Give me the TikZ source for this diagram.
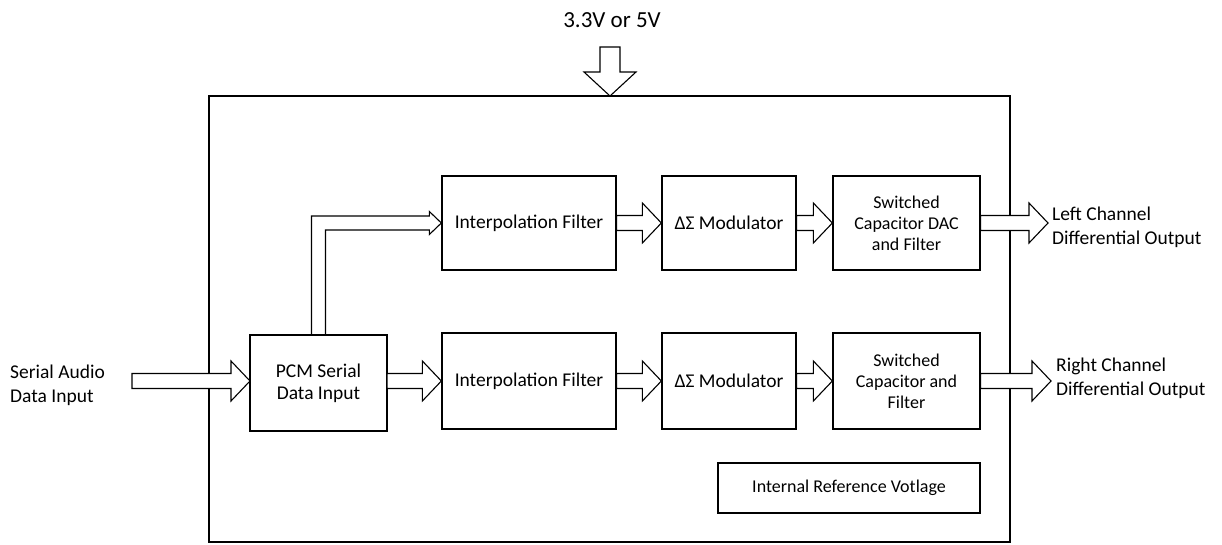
\documentclass[tikz,border=0pt]{standalone}
\usepackage{fontspec}
\setmainfont{Carlito}
\usetikzlibrary{calc}
\tikzset{
  blk/.style={draw, line width=1.3pt, minimum width=#1, align=center, inner sep=2pt},
  blk/.default=170pt,
  fat/.style={draw, fill=white, line width=1.1pt, line join=miter},
  lbl/.style={align=left, font=\fontsize{19.5}{24}\selectfont, inner sep=0pt}
}
\newcommand{\fatarrow}[2]{%
  \draw[fat] let \p1=(#1), \p2=(#2) in
    (\x1,\y1+7.5pt) -- (\x2-19pt,\y1+7.5pt) -- (\x2-19pt,\y1+20pt) -- (\x2,\y1)
    -- (\x2-19pt,\y1-20pt) -- (\x2-19pt,\y1-7.5pt) -- (\x1,\y1-7.5pt) -- cycle;}
\begin{document}
\begin{tikzpicture}[x=1pt,y=-1pt]
\useasboundingbox (0,0) rectangle (1222,545);
% outer box
\draw[line width=1.3pt] (209,96) rectangle (1010,542);
\node[font=\fontsize{23}{24}\selectfont] (vcc) at (612,20) {3.3V or 5V};
\coordinate (vtip) at (610,96);
% blocks
\node[blk=137pt, minimum height=96pt, font=\fontsize{19.5}{22}\selectfont] (pcm) at (318.5,383) {PCM Serial\\Data Input};
\node[blk=174pt, minimum height=94pt, font=\fontsize{19.5}{22}\selectfont] (if1) at (529,223) {Interpolation Filter};
\node[blk=134pt, minimum height=94pt, font=\fontsize{19.5}{22}\selectfont] (m1) at (729,223) {ΔΣ Modulator};
\node[blk=147pt, minimum height=94pt, font=\fontsize{18}{21}\selectfont] (s1) at (906.5,223) {Switched\\Capacitor DAC\\and Filter};
\node[blk=174pt, minimum height=96pt, font=\fontsize{19.5}{22}\selectfont] (if2) at (529,381) {Interpolation Filter};
\node[blk=134pt, minimum height=96pt, font=\fontsize{19.5}{22}\selectfont] (m2) at (729,381) {ΔΣ Modulator};
\node[blk=147pt, minimum height=96pt, font=\fontsize{18}{21}\selectfont] (s2) at (906.5,381) {Switched\\Capacitor and\\Filter};
\node[blk=262pt, minimum height=50pt, font=\fontsize{18}{20}\selectfont] (ref) at (849,488) {Internal Reference Votlage};
% labels
\node[lbl, anchor=west] (inlbl) at (10,385) {Serial Audio\\Data Input};
\node[lbl, anchor=west] (lout) at (1052,227) {Left Channel\\Differential Output};
\node[lbl, anchor=west] (rout) at (1056,378) {Right Channel\\Differential Output};
\coordinate (instart) at (132,381);
\coordinate (ltip) at (1048,223);
\coordinate (rtip) at (1051,381);
\coordinate (pcmw) at (250,381);
\coordinate (pcme) at (387,381);
% arrows
\fatarrow{instart}{pcmw}
\fatarrow{pcme}{if2.west}
\fatarrow{if2.east}{m2.west}
\fatarrow{m2.east}{s2.west}
\fatarrow{s2.east}{rtip}
\fatarrow{if1.east}{m1.west}
\fatarrow{m1.east}{s1.west}
\fatarrow{s1.east}{ltip}
% supply arrow
\draw[fat] let \p1=(vtip) in
  (\x1-10pt,\y1+49pt) -- (\x1+10pt,\y1+49pt) -- (\x1+10pt,\y1+24pt) -- (\x1+26pt,\y1+24pt)
  -- (\x1,\y1) -- (\x1-26pt,\y1+24pt) -- (\x1-10pt,\y1+24pt) -- cycle;
% L-shaped arrow from PCM to top interpolation filter
\draw[line width=1.1pt, line join=miter] let \p1=(pcm.north), \p2=(if1.west) in
  (\x1-7pt,\y1) -- (\x1-7pt,\y2+7pt) -- (\x2-12pt,\y2+7pt) -- (\x2-12pt,\y2+11.5pt)
  -- (\x2,\y2) -- (\x2-12pt,\y2-11.5pt) -- (\x2-12pt,\y2-7pt) -- (\x1+7pt,\y2-7pt) -- (\x1+7pt,\y1);
\end{tikzpicture}
\end{document}
